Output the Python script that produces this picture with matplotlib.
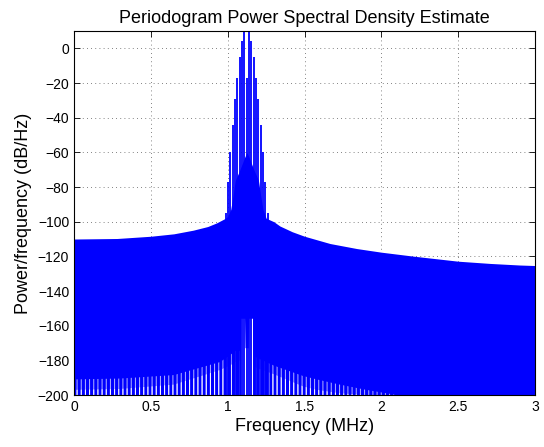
import matplotlib
matplotlib.use('Agg')
import matplotlib.pyplot as plt
import numpy as np

plt.rcParams['font.family'] = ['Liberation Sans', 'DejaVu Sans']
plt.rcParams['hatch.linewidth'] = 0.7

# upper edge of the broadband trace (MHz, dB/Hz)
upper_f = [0, 0.28, 0.5, 0.65, 0.776, 0.87, 0.928, 0.982, 1.0, 1.02, 1.035, 1.05, 1.08,
           1.11, 1.125, 1.14, 1.17, 1.2, 1.215, 1.23, 1.25, 1.3, 1.34, 1.42, 1.5,
           1.666, 1.84, 2.0, 2.21, 2.5, 2.71, 2.9, 3.0]
upper_db = [-110, -109.7, -108.4, -107.0, -104.9, -102.8, -100.7, -98.2, -97, -93, -85,
            -76, -70, -63, -60, -63, -70, -76, -85, -93, -98, -100, -102.5, -105.8,
            -108.4, -112.6, -115.5, -117.6, -119.9, -122.8, -124.1, -125, -125.3]

# main lobe spikes
spike_f = [0.987, 1.002, 1.017, 1.032, 1.048, 1.063, 1.078, 1.093, 1.108, 1.124,
           1.139, 1.154, 1.169, 1.184, 1.200, 1.215, 1.230, 1.245, 1.260]
spike_db = [-95, -77, -60, -44, -29, -17, -5, 4, 12, -17,
            12, 4, -5, -17, -29, -44, -60, -77, -95]

# tops of the nulls near the floor
null_hi_f = [0, 0.3, 0.65, 0.95, 1.0, 1.06, 1.18, 1.3, 1.49, 1.58, 1.73, 1.9, 2.1]
null_hi_db = [-191, -190.5, -188.5, -181, -178, -174, -178, -183, -189, -191, -194, -197, -200]
null_lo_f = [0, 0.3, 0.65, 0.95, 1.02, 1.07, 1.18, 1.3, 1.49, 1.58, 1.73, 1.9]
null_lo_db = [-197, -196.5, -194, -185.6, -182.7, -180, -184, -188, -195, -197, -199, -200]

# deep nulls under the peak
center_f = [1.087, 1.089, 1.113, 1.116, 1.137, 1.139, 1.165, 1.167]
center_db = [-200, -156, -156, -173, -173, -156, -156, -200]

blue = (0, 0, 1)
fig = plt.figure(figsize=(5.44, 4.47), dpi=100)
ax = fig.add_axes([0.136, 0.1163, 0.8475, 0.8143])

ax.fill_between(upper_f, -200, upper_db, color=blue, lw=0)
ax.vlines(spike_f, -200, spike_db, color=blue, lw=1.3)
ax.fill_between(null_hi_f, -200, null_hi_db, facecolor='none', edgecolor='#b4b4ff',
                hatch='||||', lw=0)
ax.fill_between(null_lo_f, -200, null_lo_db, facecolor='none', edgecolor='white',
                hatch='||||', lw=0)
ax.fill(center_f, center_db, color='white', lw=0)

ax.set_xlim(0, 3)
ax.set_ylim(-200, 10)
ax.set_xticks(np.arange(0, 3.01, 0.5))
ax.set_xticklabels(['0', '0.5', '1', '1.5', '2', '2.5', '3'])
ax.set_yticks(np.arange(-200, 1, 20))
ax.tick_params(direction='in', top=True, right=True, length=4, labelsize=10, width=0.6)
ax.set_axisbelow(True)
ax.grid(True, color='0.35', lw=0.6, linestyle=(0, (1, 4)))
for s in ax.spines.values():
    s.set_linewidth(0.8)

ax.set_title('Periodogram Power Spectral Density Estimate', fontsize=13, pad=6)
ax.set_xlabel('Frequency (MHz)', fontsize=13, labelpad=3)
ax.set_ylabel('Power/frequency (dB/Hz)', fontsize=13, labelpad=4)

fig.savefig('out.png', dpi=100)
